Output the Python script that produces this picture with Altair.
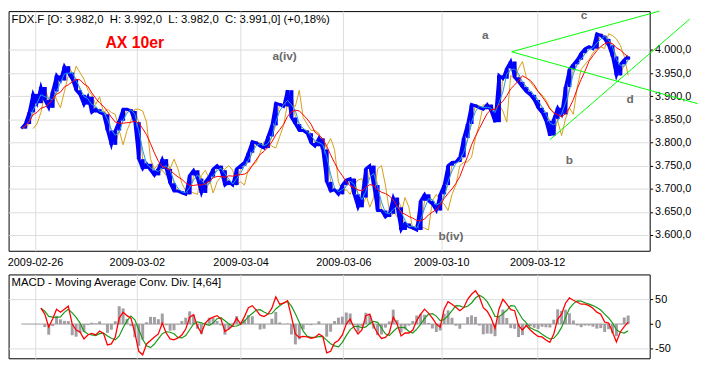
import altair as alt
import pandas as pd

# ---------------- data ----------------
close = [3830, 3840, 3865, 3905, 3885, 3920, 3892, 3875, 3910, 3945,
         3934, 3965, 3951, 3937, 3913, 3903, 3882, 3899, 3865, 3872,
         3865, 3861, 3826, 3795, 3826, 3847, 3872, 3872, 3868, 3844,
         3764, 3743, 3754, 3740, 3729, 3743, 3764, 3743, 3712, 3695,
         3695, 3691, 3688, 3729, 3740, 3722, 3691, 3715, 3726, 3743,
         3750, 3740, 3708, 3715, 3708, 3743, 3750, 3757, 3778, 3802,
         3799, 3792, 3788, 3813, 3837, 3885, 3882, 3878, 3913, 3854,
         3840, 3826, 3826, 3820, 3799, 3792, 3809, 3785, 3715, 3695,
         3698, 3688, 3708, 3719, 3722, 3688, 3660, 3681, 3743, 3750,
         3708, 3653, 3653, 3639, 3646, 3681, 3660, 3611, 3625, 3618,
         3615, 3611, 3674, 3688, 3674, 3667, 3653, 3688, 3708, 3750,
         3757, 3758, 3768, 3810, 3840, 3882, 3879, 3875, 3872, 3882,
         3868, 3844, 3945, 3938, 3960, 3975, 3941, 3931, 3920, 3910,
         3903, 3892, 3875, 3865, 3847, 3815, 3851, 3875, 3861, 3920,
         3958, 3969, 3979, 3993, 4003, 4007, 4003, 4035, 4031, 4024,
         4010, 3986, 3945, 3969, 3979, 3986]

macd = [None, None, None, None, None,
        32, 20, -6, 10, 30, 24, 30, 36, 0, -12, -16, -30, -22, -19, -22,
        -14, -19, -42, -40, -26, 12, 24, 17, 12, -18, -55, -62, -40, -33, -26,
        -20, 2, -18, -30, -32, -28, -22, -10, 14, 19, -5, -18, 2, 10, 14,
        17, 10, -15, -10, -3, 12, 0, 15, 33, 37, 28, 18, 15, 20, 32,
        55, 40, 42, 47, 15, -20, -27, -25, -26, -29, -27, -20, -25, -58, -55,
        -38, -33, -22, 0, 10, -8, -20, -12, 17, 20, -4, -19, -29, -27, -18,
        14, 0, -24, -18, -18, -12, 7, 20, 30, 22, 12, 0, -6, 30, 45,
        40, 34, 27, 33, 50, 60, 67, 55, 33, 26, 12, -9, 30, 50, 40,
        29, 27, -3, -12, -3, -12, -19, -25, -26, -32, -37, -20, 10, 20, 42,
        53, 48, 44, 40, 40, 37, 32, 24, 20, 4, 2, -16, -36, -16, -5, 4]

tick_pos = [3.5, 29.5, 56, 82.25, 107.25, 131.75]
tick_labels = ["2009-02-26", "2009-03-02", "2009-03-04",
               "2009-03-06", "2009-03-10", "2009-03-12"]

price_ticks = [3600, 3650, 3700, 3750, 3800, 3850, 3900, 3950, 4000]
macd_ticks = [-50, 0, 50]

trend_x1 = [125.25, 125.25, 135]
trend_y1 = [3996, 3996, 3806]
trend_x2 = [163, 172.75, 170.75]
trend_y2 = [4084, 3884, 4067]

ann_text = ["a(iv)", "b(iv)", "a", "b", "c", "d"]
ann_x = [67.25, 109.75, 118.5, 140, 143.75, 155.5]
ann_y = [3986, 3598, 4032, 3763, 4076, 3894]

title_text = "FDX.F [O: 3.982,0\u00a0 H: 3.992,0\u00a0 L: 3.982,0\u00a0 C: 3.991,0] (+0,18%)"
sub_title = "AX 10er"
macd_title = "MACD - Moving Average Conv. Div. [4,64]"

# ---------------- chart ----------------
FONT = "Liberation Sans"
W = 650
df = pd.DataFrame({"i": list(range(len(close))), "close": close, "macd": macd})
trend = pd.DataFrame({"x1": trend_x1, "y1": trend_y1, "x2": trend_x2, "y2": trend_y2})
ann = pd.DataFrame({"t": ann_text, "x": ann_x, "y": ann_y})

xscale = alt.Scale(domain=[-3.25, 160.5], nice=False, zero=False)

label_expr = "''"
for p, l in reversed(list(zip(tick_pos, tick_labels))):
    label_expr = f"datum.value == {p} ? '{l}' : " + label_expr

x_axis_top = alt.Axis(values=tick_pos, labelExpr=label_expr, grid=True, ticks=False,
                      tickSize=0, domain=False, labelPadding=6, labelFontSize=11,
                      labelFont=FONT, labelColor="black", title=None,
                      labelFlush=False, labelOverlap=False)
x_axis_bot = alt.Axis(values=tick_pos, labels=False, grid=True, ticks=False,
                      tickSize=0, domain=False, title=None)

yscale = alt.Scale(domain=[3566, 4084], nice=False, zero=False)
y_axis = alt.Axis(orient="right", values=price_ticks, grid=True, tickSize=3,
                  tickColor="black", domain=False, labelPadding=2, labelFontSize=11,
                  labelFont=FONT, labelColor="black", title=None,
                  labelExpr="replace(replace(replace(format(datum.value, ',.1f'), '.', '#'), ',', '.'), '#', ',')")


def X(f, axis=x_axis_top):
    return alt.X(f, type="quantitative", scale=xscale, axis=axis, title=None)


def Y(f):
    return alt.Y(f, type="quantitative", scale=yscale, axis=y_axis, title=None)


base = alt.Chart(df).transform_window(
    window=[alt.WindowFieldDef(op="lag", field="close", param=1, **{"as": "prev"}),
            alt.WindowFieldDef(op="lag", field="close", param=3, **{"as": "lag3"})],
    sort=[alt.SortField("i")],
).transform_window(
    ma_red="mean(close)", frame=[-6, 0], sort=[alt.SortField("i")]
).transform_window(
    ma_cyan="mean(close)", frame=[-2, 0], sort=[alt.SortField("i")]
)

orange1 = base.mark_line(color="#D4A017", strokeWidth=1).encode(x=X("i"), y=Y("prev"))
orange2 = base.mark_line(color="#D4A017", strokeWidth=1).encode(x=X("i"), y=Y("lag3"))
bluerule = base.transform_filter("isValid(datum.prev)").mark_rule(color="#0000FF", strokeWidth=4).encode(
    x=X("i"), y=Y("prev"), y2="close")
blueline = base.mark_line(color="#0000FF", strokeWidth=3).encode(x=X("i"), y=Y("close"))
cyan = base.mark_line(color="#1E9BE6", strokeWidth=1).encode(x=X("i"), y=Y("ma_cyan"))
red = base.mark_line(color="#FF0000", strokeWidth=1).encode(x=X("i"), y=Y("ma_red"))

trend_l = alt.Chart(trend).mark_rule(color="#00FF00", strokeWidth=1).encode(
    x=X("x1"), x2="x2", y=Y("y1"), y2="y2")

ann_l = alt.Chart(ann).mark_text(font=FONT, fontSize=12, fontWeight="bold", color="#6A6A6A").encode(
    x=X("x"), y=Y("y"), text="t")

t1 = alt.Chart(pd.DataFrame({"t": [title_text]})).mark_text(
    font=FONT, fontSize=11.5, align="left", baseline="middle", color="black").encode(
    text="t", x=alt.value(3), y=alt.value(9))
t2 = alt.Chart(pd.DataFrame({"t": [sub_title]})).mark_text(
    font=FONT, fontSize=16, fontWeight="bold", align="center", baseline="alphabetic", color="#FF0000").encode(
    text="t", x=alt.value(128), y=alt.value(37))

top = alt.layer(orange1, orange2, bluerule, blueline, cyan, red, trend_l, ann_l, t1, t2).properties(
    width=W, height=243)

# MACD panel
mscale = alt.Scale(domain=[-69, 100], nice=False, zero=False)
m_axis = alt.Axis(orient="right", values=macd_ticks, grid=True, tickSize=3, tickColor="black",
                  domain=False, labelPadding=2, labelFontSize=11, labelFont=FONT,
                  labelColor="black", title=None, labelExpr="'' + datum.value",
                  gridOpacity={"condition": {"test": "datum.value === 0", "value": 0}, "value": 1})


def MY(f):
    return alt.Y(f, type="quantitative", scale=mscale, axis=m_axis, title=None)


mbase = alt.Chart(df).transform_filter("isValid(datum.macd)").transform_window(
    signal="mean(macd)", frame=[-3, 0], sort=[alt.SortField("i")]
).transform_calculate(hist="datum.macd - datum.signal", z="0")

hist = mbase.mark_rule(color="#A39EA3", strokeWidth=3).encode(
    x=X("i", x_axis_bot), y=MY("hist"), y2="z")
zero = alt.Chart(df).transform_aggregate(lo="min(i)", hi="max(i)").transform_calculate(z="0").mark_rule(
    color="#9A9A9A", strokeWidth=1).encode(x=X("lo", x_axis_bot), x2="hi", y=MY("z"))
green = mbase.mark_line(color="#1A9A1A", strokeWidth=1.2).encode(x=X("i", x_axis_bot), y=MY("signal"))
redm = mbase.mark_line(color="#FF0000", strokeWidth=1.3).encode(x=X("i", x_axis_bot), y=MY("macd"))
t3 = alt.Chart(pd.DataFrame({"t": [macd_title]})).mark_text(
    font=FONT, fontSize=11.5, align="left", baseline="middle", color="black").encode(
    text="t", x=alt.value(3), y=alt.value(9))

bottom = alt.layer(hist, zero, green, redm, t3).properties(width=W, height=85)

chart = alt.vconcat(top, bottom, spacing=5).properties(
    padding={"left": -1.4, "top": -2.3, "right": 0, "bottom": 0}, background="white"
).configure_view(stroke="black", strokeWidth=1).configure_axis(
    gridColor="#DCDCDC", gridWidth=1
)

chart.save("out.html", embed_options={"renderer": "svg", "actions": False})
